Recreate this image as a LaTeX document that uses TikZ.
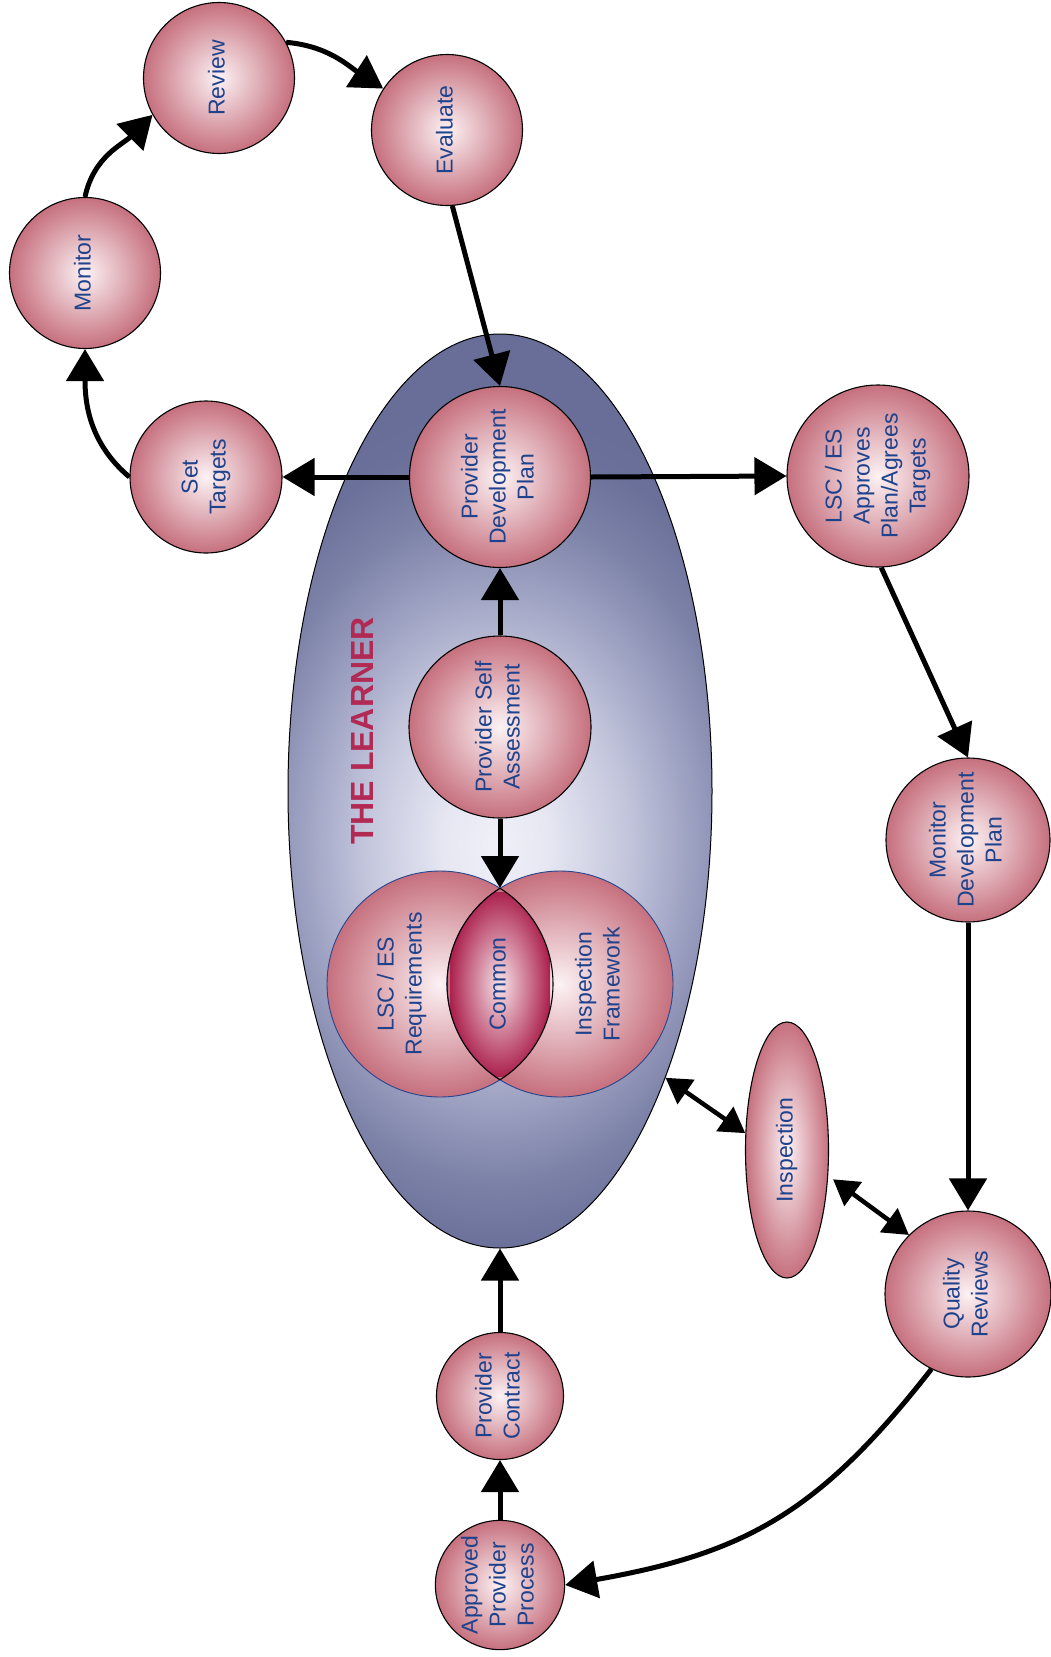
\documentclass[tikz,border=0pt]{standalone}
\usepackage{fontspec}
\usepackage{graphicx}
\setmainfont{Liberation Sans}
\usetikzlibrary{arrows.meta,shapes.geometric}
\definecolor{pinkC}{RGB}{252,242,244}
\definecolor{pinkE}{RGB}{198,112,126}
\definecolor{txtB}{RGB}{30,66,140}
\definecolor{lr0}{RGB}{240,240,248}
\definecolor{lr1}{RGB}{230,231,242}
\definecolor{lr2}{RGB}{195,197,220}
\definecolor{lr3}{RGB}{155,159,192}
\definecolor{lr4}{RGB}{125,130,168}
\definecolor{lr5}{RGB}{106,112,153}
\definecolor{lrnE}{RGB}{104,110,152}
\definecolor{lensE}{RGB}{172,34,78}
\definecolor{lensC}{RGB}{246,226,232}
\definecolor{redT}{RGB}{178,42,84}
\definecolor{circB}{RGB}{40,70,140}
\pgfdeclareradialshading{lrnshade}{\pgfpointorigin}{color(0bp)=(lr0); color(2bp)=(lr1); color(5bp)=(lr2); color(7.5bp)=(lr3); color(9.5bp)=(lr4); color(11.5bp)=(lr5); color(12.5bp)=(lrnE); color(50bp)=(lrnE)}
\newcommand{\vtext}[1]{\rotatebox{90}{\begin{tabular}{@{}c@{}}#1\end{tabular}}}
\begin{document}
\begin{tikzpicture}[x=1pt,y=1pt,
 bubble/.style={circle, draw=black, line width=1.1pt, inner color=pinkC, outer color=pinkE, inner sep=0pt, text=txtB, font=\fontsize{23}{28}\selectfont},
 bigc/.style={circle, draw=circB, line width=0.9pt, inner color=pinkC, outer color=pinkE, inner sep=0pt, minimum size=226pt},
 arr/.style={line width=5pt, -{Triangle[length=32pt,width=37pt]}},
 dbl/.style={line width=4.5pt, {Triangle[length=25pt,width=29pt]}-{Triangle[length=25pt,width=29pt]}},
 lbl/.style={text=txtB, font=\fontsize{23}{28}\selectfont, inner sep=0pt}
]
\useasboundingbox (0,0) rectangle (1050,-1657);
\fill[white] (0,0) rectangle (1050,-1657);

% the learner ellipse
\node[ellipse, draw=black, line width=1pt, fill=lrnE, minimum width=424pt, minimum height=914pt, inner sep=0pt,
  path picture={\shade[shading=lrnshade] ([xshift=-4pt,yshift=-54pt]path picture bounding box.center) ellipse (660pt and 880pt);}]
  (learner) at (500,-791) {};
\node[rotate=90, text=redT, font=\fontsize{32}{38}\selectfont\bfseries, inner sep=0pt] (title) at (362,-731) {THE LEARNER};

% venn
\node[bigc] (lreq) at (440,-984) {};
\node[bigc] (ifw) at (560,-984) {};
\begin{scope}
  \clip (440,-984) circle (113pt);
  \clip (560,-984) circle (113pt);
  \shade[inner color=lensC, outer color=lensE] (450,-892) rectangle (550,-1076);
\end{scope}
\begin{scope}
  \clip (440,-984) circle (113pt);
  \draw[black, line width=1.1pt] (560,-984) circle (113pt);
\end{scope}
\begin{scope}
  \clip (560,-984) circle (113pt);
  \draw[black, line width=1.1pt] (440,-984) circle (113pt);
\end{scope}
\node[lbl] (lreqt) at (402,-984) {\vtext{LSC / ES\\Requirements}};
\node[lbl] (commt) at (500,-984) {\vtext{Common}};
\node[lbl] (ifwt) at (600,-984) {\vtext{Inspection\\Framework}};

% bubbles
\node[bubble, minimum size=181pt] (pdp) at (500,-477) {\vtext{Provider\\Development\\Plan}};
\node[bubble, minimum size=182pt] (psa) at (500,-727) {\vtext{Provider Self\\Assessment}};
\node[bubble, minimum size=151pt] (rev) at (219,-78) {\vtext{Review}};
\node[bubble, minimum size=151pt] (eva) at (447,-130) {\vtext{Evaluate}};
\node[bubble, minimum size=151pt] (mon) at (85,-273) {\vtext{Monitor}};
\node[bubble, minimum size=152pt] (st) at (206,-477) {\vtext{Set\\Targets}};
\node[bubble, minimum size=182pt] (lsca) at (878,-476) {\vtext{LSC / ES\\Approves\\Plan/Agrees\\Targets}};
\node[bubble, minimum size=164pt] (mdp) at (968,-840) {\vtext{Monitor\\Development\\Plan}};
\node[bubble, minimum size=166pt] (qr) at (968,-1294) {\vtext{Quality\\Reviews}};
\node[bubble, minimum size=127pt] (pc) at (500,-1396) {\vtext{Provider\\Contract}};
\node[bubble, minimum size=128pt] (app) at (500,-1585) {\vtext{Approved\\Provider\\Process}};
\node[bubble, ellipse, minimum width=83pt, minimum height=256pt] (insp) at (787,-1150) {\vtext{Inspection}};

% connectors
\coordinate (ctop) at (500,-888);
\draw[arr] (mon.north) to[out=78,in=225] (rev.209);
\draw[arr] (rev.28) to[out=-5,in=147] (eva.147);
\draw[arr] (eva.-86) -- (pdp.north);
\draw[arr] (st.west) to[out=140,in=-90] (mon.south);
\draw[arr] (pdp.west) -- (st.east);
\draw[arr] (pdp.east) -- (lsca.west);
\draw[arr] (psa.north) -- (pdp.south);
\draw[arr] (psa.south) -- (ctop);
\draw[arr] (lsca.-88) -- (mdp.north);
\draw[arr] (mdp.south) -- (qr.north);
\draw[dbl] (insp.158) -- (learner.-60);
\draw[dbl, shorten <=6pt] (insp.-32) -- (qr.135);
\draw[arr] (qr.244) to[out=232,in=10,looseness=1.1] (app.east);
\draw[arr] (app.north) -- (pc.south);
\draw[arr] (pc.north) -- (learner.south);
\end{tikzpicture}
\end{document}
